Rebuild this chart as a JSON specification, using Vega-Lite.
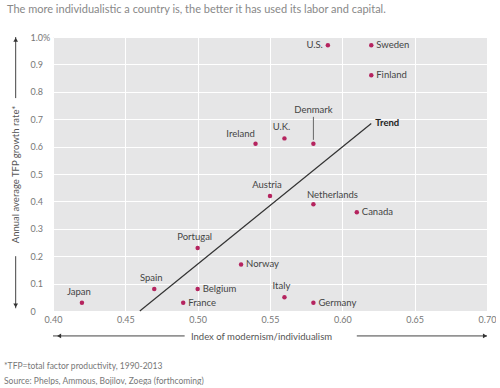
{
  "$schema": "https://vega.github.io/schema/vega-lite/v6.json",
  "padding": {"left": 4, "top": 4, "right": 0, "bottom": 0},
  "title": {
    "text": "The more individualistic a country is, the better it has used its labor and capital.",
    "anchor": "start",
    "frame": "group",
    "dx": -46,
    "fontSize": 11,
    "fontWeight": "normal",
    "color": "#888",
    "font": "Lato",
    "offset": 18
  },
  "datasets": {
    "countries": [
      {"country": "Japan", "index": 0.42, "tfp": 0.03},
      {"country": "Spain", "index": 0.47, "tfp": 0.08},
      {"country": "France", "index": 0.49, "tfp": 0.03},
      {"country": "Belgium", "index": 0.50, "tfp": 0.08},
      {"country": "Portugal", "index": 0.50, "tfp": 0.23},
      {"country": "Norway", "index": 0.53, "tfp": 0.17},
      {"country": "Ireland", "index": 0.54, "tfp": 0.61},
      {"country": "Austria", "index": 0.55, "tfp": 0.42},
      {"country": "U.K.", "index": 0.56, "tfp": 0.63},
      {"country": "Italy", "index": 0.56, "tfp": 0.05},
      {"country": "Denmark", "index": 0.58, "tfp": 0.61},
      {"country": "Netherlands", "index": 0.58, "tfp": 0.39},
      {"country": "Germany", "index": 0.58, "tfp": 0.03},
      {"country": "U.S.", "index": 0.59, "tfp": 0.97},
      {"country": "Canada", "index": 0.61, "tfp": 0.36},
      {"country": "Sweden", "index": 0.62, "tfp": 0.97},
      {"country": "Finland", "index": 0.62, "tfp": 0.86}
    ],
    "trend": [
      {"index": 0.46, "tfp": 0.0, "label": ""},
      {"index": 0.62, "tfp": 0.684, "label": "Trend"}
    ]
  },
  "vconcat": [
    {
      "width": 434,
      "height": 274,
      "title": {
        "text": ["*TFP=total factor productivity, 1990-2013", "Source: Phelps, Ammous, Bojilov, Zoega (forthcoming)"],
        "orient": "bottom",
        "anchor": "start",
        "frame": "group",
        "dx": -49,
        "offset": 21,
        "fontSize": 8.5,
        "lineHeight": 15,
        "fontWeight": "normal",
        "color": "#777",
        "font": "Lato"
      },
      "resolve": {"axis": {"x": "independent", "y": "independent"}},
      "layer": [
        {
          "encoding": {
            "x": {
              "field": "index",
              "type": "quantitative",
              "scale": {"domain": [0.4, 0.7], "nice": false, "zero": false},
              "axis": {
                "values": [0.4, 0.45, 0.5, 0.55, 0.6, 0.65, 0.7],
                "format": ".2f",
                "title": "Index of modernism/individualism",
                "titleX": 208,
                "titleY": 25,
                "titleBaseline": "middle",
                "titleAlign": "center",
                "labelPadding": 4,
                "labelFlush": false
              }
            },
            "y": {
              "field": "tfp",
              "type": "quantitative",
              "scale": {"domain": [0, 1], "nice": false},
              "axis": {
                "values": [0, 0.1, 0.2, 0.3, 0.4, 0.5, 0.6, 0.7, 0.8, 0.9, 1.0],
                "labelExpr": "datum.value == 1 ? '1.0%' : datum.value == 0 ? '0' : format(datum.value, '.1f')",
                "labelAlign": "left",
                "labelPadding": 23,
                "labelFlush": false,
                "title": "Annual average TFP growth rate*",
                "titleX": -37.3,
                "titleY": 137,
                "titleAngle": -90,
                "titleBaseline": "middle",
                "titleAlign": "center"
              }
            }
          },
          "layer": [
            {
              "data": {"name": "trend"},
              "mark": {"type": "line", "color": "#333", "strokeWidth": 1.2},
              "encoding": {}
            },
            {
              "data": {"name": "trend"},
              "transform": [{"filter": "datum.label != ''"}],
              "mark": {"type": "text", "align": "left", "dx": 4, "dy": -1, "fontWeight": "bold", "fontSize": 9.5, "color": "#222", "font": "Lato"},
              "encoding": {"text": {"field": "label"}}
            },
            {
              "data": {"name": "countries"},
              "transform": [{"filter": "datum.country == 'Denmark'"}],
              "mark": {"type": "rule", "color": "#666", "strokeWidth": 1, "yOffset": -4, "y2Offset": -27},
              "encoding": {"y2": {"field": "tfp"}}
            },
            {
              "data": {"name": "countries"},
              "mark": {"type": "circle", "size": 20, "color": "#b5245f", "opacity": 1},
              "encoding": {}
            },
            {
              "data": {"name": "countries"},
              "transform": [{"filter": {"field": "country", "oneOf": ["Sweden", "Finland", "Canada", "Norway", "Belgium", "France", "Germany"]}}],
              "mark": {"type": "text", "align": "left", "baseline": "middle", "dx": 5, "fontSize": 9.5, "color": "#444", "font": "Lato"},
              "encoding": {"text": {"field": "country"}}
            },
            {
              "data": {"name": "countries"},
              "transform": [{"filter": {"field": "country", "oneOf": ["U.S."]}}],
              "mark": {"type": "text", "align": "right", "baseline": "middle", "dx": -5, "fontSize": 9.5, "color": "#444", "font": "Lato"},
              "encoding": {"text": {"field": "country"}}
            },
            {
              "data": {"name": "countries"},
              "transform": [{"filter": {"field": "country", "oneOf": ["U.K.", "Austria", "Japan", "Italy", "Portugal", "Spain"]}}],
              "mark": {"type": "text", "align": "center", "baseline": "middle", "dx": -3, "dy": -11, "fontSize": 9.5, "color": "#444", "font": "Lato"},
              "encoding": {"text": {"field": "country"}}
            },
            {
              "data": {"name": "countries"},
              "transform": [{"filter": {"field": "country", "oneOf": ["Ireland"]}}],
              "mark": {"type": "text", "align": "center", "baseline": "middle", "dx": -15, "dy": -10, "fontSize": 9.5, "color": "#444", "font": "Lato"},
              "encoding": {"text": {"field": "country"}}
            },
            {
              "data": {"name": "countries"},
              "transform": [{"filter": {"field": "country", "oneOf": ["Netherlands"]}}],
              "mark": {"type": "text", "align": "center", "baseline": "middle", "dx": 19, "dy": -9, "fontSize": 9.5, "color": "#444", "font": "Lato"},
              "encoding": {"text": {"field": "country"}}
            },
            {
              "data": {"name": "countries"},
              "transform": [{"filter": {"field": "country", "oneOf": ["Denmark"]}}],
              "mark": {"type": "text", "align": "center", "baseline": "middle", "dy": -34, "fontSize": 9.5, "color": "#444", "font": "Lato"},
              "encoding": {"text": {"field": "country"}}
            }
          ]
        },
        {
          "data": {"values": [{}]},
          "mark": {"type": "rule", "clip": false, "color": "#444", "strokeWidth": 1},
          "encoding": {"x": {"datum": 0.4, "type": "quantitative", "axis": null}, "x2": {"datum": 0.491}, "y": {"datum": -0.091, "type": "quantitative", "axis": null}}
        },
        {
          "data": {"values": [{}]},
          "mark": {"type": "rule", "clip": false, "color": "#444", "strokeWidth": 1},
          "encoding": {"x": {"datum": 0.61, "type": "quantitative", "axis": null}, "x2": {"datum": 0.70}, "y": {"datum": -0.091, "type": "quantitative", "axis": null}}
        },
        {
          "data": {"values": [{}]},
          "mark": {"type": "point", "shape": "triangle-left", "filled": true, "clip": false, "color": "#333", "size": 22, "opacity": 1},
          "encoding": {"x": {"datum": 0.4042, "type": "quantitative", "axis": null}, "y": {"datum": -0.091, "type": "quantitative", "axis": null}}
        },
        {
          "data": {"values": [{}]},
          "mark": {"type": "point", "shape": "triangle-right", "filled": true, "clip": false, "color": "#333", "size": 22, "opacity": 1},
          "encoding": {"x": {"datum": 0.6986, "type": "quantitative", "axis": null}, "y": {"datum": -0.091, "type": "quantitative", "axis": null}}
        },
        {
          "data": {"values": [{}]},
          "mark": {"type": "rule", "clip": false, "color": "#444", "strokeWidth": 1},
          "encoding": {"x": {"datum": 0.3742, "type": "quantitative", "axis": null}, "y": {"datum": 1.0, "type": "quantitative", "axis": null}, "y2": {"datum": 0.777}}
        },
        {
          "data": {"values": [{}]},
          "mark": {"type": "rule", "clip": false, "color": "#444", "strokeWidth": 1},
          "encoding": {"x": {"datum": 0.3742, "type": "quantitative", "axis": null}, "y": {"datum": 0.2, "type": "quantitative", "axis": null}, "y2": {"datum": 0.01}}
        },
        {
          "data": {"values": [{}]},
          "mark": {"type": "point", "shape": "triangle-up", "filled": true, "clip": false, "color": "#333", "size": 22, "opacity": 1},
          "encoding": {"x": {"datum": 0.3742, "type": "quantitative", "axis": null}, "y": {"datum": 0.99, "type": "quantitative", "axis": null}}
        },
        {
          "data": {"values": [{}]},
          "mark": {"type": "point", "shape": "triangle-down", "filled": true, "clip": false, "color": "#333", "size": 22, "opacity": 1},
          "encoding": {"x": {"datum": 0.3742, "type": "quantitative", "axis": null}, "y": {"datum": 0.02, "type": "quantitative", "axis": null}}
        }
      ]
    }
  ],
  "config": {
    "font": "Lato",
    "view": {"fill": "#e6e6e7", "stroke": null},
    "axis": {
      "domain": false,
      "ticks": false,
      "gridColor": "#ffffff",
      "gridWidth": 1,
      "labelColor": "#777",
      "labelFontSize": 9,
      "labelFont": "Lato",
      "titleColor": "#555",
      "titleFont": "Lato",
      "titleFontWeight": "normal",
      "titleFontSize": 9.5
    }
  }
}
